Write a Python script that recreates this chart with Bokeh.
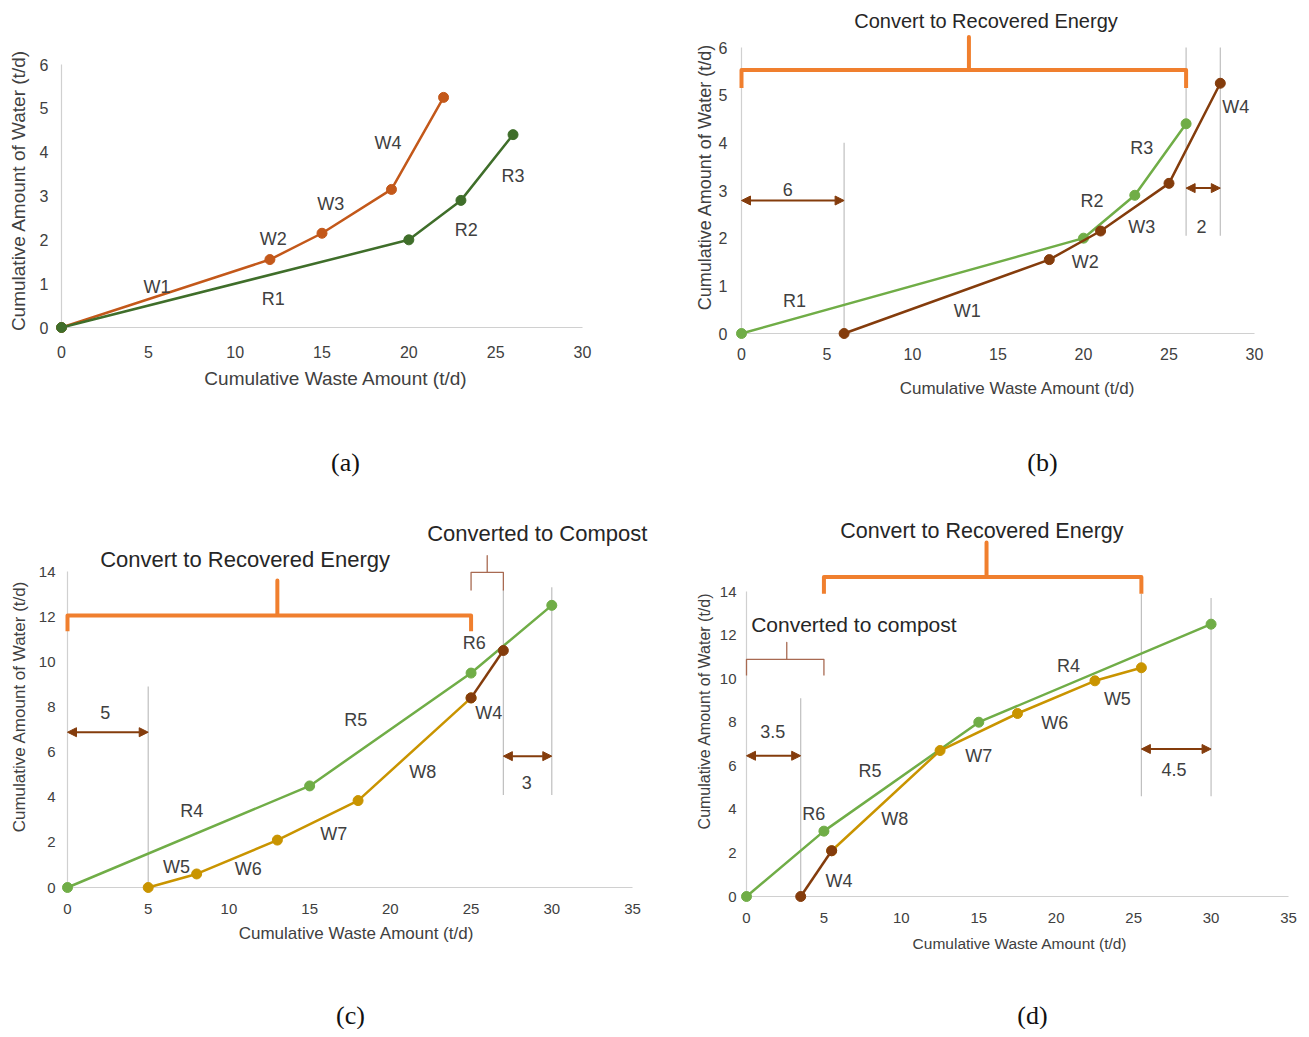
from bokeh.plotting import figure
from bokeh.models import FixedTicker, Arrow, NormalHead
from bokeh.layouts import row, column
from bokeh.embed import file_html
from bokeh.resources import INLINE
from bokeh.core.properties import value

# ---------------- data ----------------
# panel (a)
a_w_x = [0, 12, 15, 19, 22]
a_w_y = [0, 1.55, 2.15, 3.15, 5.25]
a_r_x = [0, 20, 23, 26]
a_r_y = [0, 2.0, 2.9, 4.4]
a_lab = ["W1", "W2", "W3", "W4", "R1", "R2", "R3"]
a_lab_x = [5.5, 12.2, 15.5, 18.8, 12.2, 23.3, 26.0]
a_lab_y = [0.93, 2.01, 2.81, 4.22, 0.66, 2.23, 3.46]

# panel (b)
b_r_x = [0, 20, 23, 26]
b_r_y = [0, 2.0, 2.9, 4.4]
b_w_x = [6, 18, 21, 25, 28]
b_w_y = [0, 1.55, 2.15, 3.15, 5.25]
b_lab = ["R1", "W1", "W2", "R2", "W3", "R3", "W4", "6", "2"]
b_lab_x = [3.1, 13.2, 20.1, 20.5, 23.4, 23.4, 28.9, 2.7, 26.9]
b_lab_y = [0.68, 0.47, 1.5, 2.77, 2.23, 3.89, 4.76, 3.03, 2.25]

# panel (c)
c_r_x = [0, 15, 25, 30]
c_r_y = [0, 4.5, 9.5, 12.5]
c_w_x = [5, 8, 13, 18, 25]
c_w_y = [0, 0.6, 2.1, 3.85, 8.4]
c_w4_x = [25, 27]
c_w4_y = [8.4, 10.5]
c_lab = ["R4", "R5", "R6", "W4", "W8", "W7", "W6", "W5", "5", "3"]
c_lab_x = [7.7, 17.85, 25.2, 26.1, 22.0, 16.5, 11.2, 6.75, 2.34, 28.45]
c_lab_y = [3.39, 7.44, 10.83, 7.71, 5.1, 2.36, 0.84, 0.93, 7.74, 4.67]

# panel (d)
d_r_x = [0, 5, 15, 30]
d_r_y = [0, 3, 8, 12.5]
d_w_x = [5.5, 12.5, 17.5, 22.5, 25.5]
d_w_y = [2.1, 6.7, 8.4, 9.9, 10.5]
d_w4_x = [3.5, 5.5]
d_w4_y = [0, 2.1]
d_lab = ["R4", "W5", "W6", "W7", "R5", "W8", "R6", "W4", "3.5", "4.5"]
d_lab_x = [20.8, 23.95, 19.9, 15.0, 7.97, 9.57, 4.35, 5.98, 1.7, 27.6]
d_lab_y = [10.6, 9.08, 7.97, 6.46, 5.74, 3.58, 3.78, 0.71, 7.58, 5.85]

ticks_x_a = [0, 5, 10, 15, 20, 25, 30]
ticks_y_a = [0, 1, 2, 3, 4, 5, 6]
ticks_x_c = [0, 5, 10, 15, 20, 25, 30, 35]
ticks_y_c = [0, 2, 4, 6, 8, 10, 12, 14]

captions = ["(a)", "(b)", "(c)", "(d)"]

# ---------------- styles ----------------
FONT = "Liberation Sans"
SERIF = "Liberation Serif"
ORANGE = "#f07f2e"
BROWN = "#843c0c"
GREEN_L = "#70ad47"
GREEN_D = "#3f6e2a"
ORANGE_D = "#c3581a"
GOLD = "#c99400"
GRAY = "#bfbfbf"
TXT = "#404040"
BRACE = "#a86a52"

LX, RX, W = 0, 654, 654          # column origins / width (page pixels)
TOP_H, CAP1_H, BOT_H, CAP2_H = 445, 68, 452, 64


def make_panel(fig_box, calib, frame, xt, yt, fs):
    fx, fy, fw, fh = fig_box
    px0, pxt, xv, py0, pyt, yv = calib
    fl, fr, ft, fb = frame
    sx = (pxt - px0) / xv
    sy = (py0 - pyt) / yv
    x0 = (fl - px0) / sx
    x1 = (fr - px0) / sx
    y1 = (py0 - ft) / sy
    y0 = (py0 - fb) / sy
    p = figure(frame_width=fr - fl, frame_height=fb - ft,
               x_range=(x0, x1), y_range=(y0, y1),
               min_border_left=fl - fx, min_border_right=fx + fw - fr,
               min_border_top=ft - fy, min_border_bottom=fy + fh - fb,
               output_backend="svg", toolbar_location=None,
               background_fill_color="white", border_fill_color="white")
    p.frame_align = False
    p.outline_line_color = None
    p.grid.visible = False
    for ax, ticks in ((p.xaxis[0], xt), (p.yaxis[0], yt)):
        ax.ticker = FixedTicker(ticks=ticks)
        ax.axis_line_color = None
        ax.major_tick_line_color = None
        ax.minor_tick_line_color = None
        ax.major_tick_out = 0
        ax.major_tick_in = 0
        ax.minor_tick_out = 0
        ax.minor_tick_in = 0
        ax.major_label_text_font = FONT
        ax.major_label_text_font_size = fs["tick"]
        ax.major_label_text_color = TXT
        ax.axis_label_text_font = FONT
        ax.axis_label_text_font_style = "normal"
        ax.axis_label_text_color = TXT
    p.xaxis[0].axis_label_text_font_size = fs["xt"]
    p.yaxis[0].axis_label_text_font_size = fs["yt"]
    p.xaxis[0].major_label_standoff = fs["xs"]
    p.yaxis[0].major_label_standoff = fs["ys"]
    p.xaxis[0].axis_label_standoff = fs["xls"]
    p.yaxis[0].axis_label_standoff = fs["yls"]
    # axis base lines
    p.segment(x0=[0, 0], y0=[0, 0], x1=[xt[-1], 0], y1=[0, yt[-1]],
              line_color="#d0d0d0", line_width=1.2)
    return p


def caption_strip(text, box, center):
    fx, fy, fw, fh = box
    p = figure(width=fw, height=fh, x_range=(0, fw), y_range=(fh, 0),
               min_border=0, output_backend="svg", toolbar_location=None,
               x_axis_type=None, y_axis_type=None,
               background_fill_color="white", border_fill_color="white")
    p.outline_line_color = None
    p.text(x=[center[0] - fx], y=[center[1] - fy], text=[text],
           text_font=value(SERIF), text_font_size="26px", text_color="#111111",
           text_align="center", text_baseline="middle")
    return p


def labels(p, xs, ys, txt, size="18px"):
    p.text(x=xs, y=ys, text=txt, text_font=value(FONT), text_font_size=size,
           text_align="center", text_baseline="middle", text_color=TXT)


def series(p, x, y, color):
    p.line(x, y, line_color=color, line_width=2.5)
    p.scatter(x, y, size=10, fill_color=color, line_color=color)


def bracket(p, x0, x1, y, yend, xm, ytip, color, width):
    p.line([x0, x0, xm, xm, xm, x1, x1], [yend, y, y, ytip, y, y, yend],
           line_color=color, line_width=width, line_join="round")


def gap_arrow(p, xa, xb, y):
    p.add_layout(Arrow(start=NormalHead(size=9, fill_color=BROWN, line_color=BROWN),
                       end=NormalHead(size=9, fill_color=BROWN, line_color=BROWN),
                       x_start=xa, y_start=y, x_end=xb, y_end=y,
                       line_color=BROWN, line_width=2))


X_TITLE = "Cumulative Waste Amount (t/d)"
Y_TITLE = "Cumulative Amount of Water (t/d)"

# ---------------- panel (a) ----------------
pa = make_panel((LX, 0, W, TOP_H), (61, 582, 30, 327, 64, 6), (51, 620, 40, 340),
                ticks_x_a, ticks_y_a,
                dict(tick="16px", xt="19px", yt="19px", xs=5, ys=3, xls=7, yls=8))
pa.xaxis.axis_label = X_TITLE
pa.yaxis.axis_label = Y_TITLE
series(pa, a_w_x, a_w_y, ORANGE_D)
series(pa, a_r_x, a_r_y, GREEN_D)
labels(pa, a_lab_x, a_lab_y, a_lab)

# ---------------- panel (b) ----------------
pb = make_panel((RX, 0, W, TOP_H), (741, 1254, 30, 333, 47, 6), (732, 1302, 9, 344),
                ticks_x_a, ticks_y_a,
                dict(tick="16px", xt="17px", yt="18px", xs=3, ys=5, xls=16, yls=1))
pb.xaxis.axis_label = X_TITLE
pb.yaxis.axis_label = Y_TITLE
pb.segment(x0=[b_w_x[0], b_r_x[-1], b_w_x[-1]], y0=[0, 2.05, 2.05],
           x1=[b_w_x[0], b_r_x[-1], b_w_x[-1]], y1=[4.0, 6.0, 6.0],
           line_color=GRAY, line_width=1.2)
bracket(pb, 0, b_r_x[-1], 5.53, 5.15, 13.3, 6.22, ORANGE, 4)
series(pb, b_r_x, b_r_y, GREEN_L)
series(pb, b_w_x, b_w_y, BROWN)
gap_arrow(pb, 0, b_w_x[0], 2.79)
gap_arrow(pb, b_r_x[-1], b_w_x[-1], 3.05)
labels(pb, b_lab_x, b_lab_y, b_lab)
pb.text(x=[14.3], y=[6.55], text=["Convert to Recovered Energy"], text_font=value(FONT),
        text_font_size="20px", text_align="center", text_baseline="middle", text_color="#262626")

# ---------------- panel (c) ----------------
BOT_Y = TOP_H + CAP1_H
pc = make_panel((LX, BOT_Y, W, BOT_H), (67, 632, 35, 887, 571, 14), (58, 654, 514, 898),
                ticks_x_c, ticks_y_c,
                dict(tick="15px", xt="17px", yt="17px", xs=5, ys=3, xls=7, yls=7))
pc.xaxis.axis_label = X_TITLE
pc.yaxis.axis_label = Y_TITLE
pc.segment(x0=[c_w_x[0], c_w4_x[-1], c_r_x[-1]], y0=[0, 4.1, 4.1],
           x1=[c_w_x[0], c_w4_x[-1], c_r_x[-1]], y1=[8.9, 13.2, 13.3],
           line_color=GRAY, line_width=1.2)
bracket(pc, 0, c_w4_x[0], 12.05, 11.35, 13.0, 13.6, ORANGE, 4)
bracket(pc, c_w4_x[0], c_w4_x[-1], 13.96, 13.16, 26.0, 14.7, BRACE, 1.3)
series(pc, c_r_x, c_r_y, GREEN_L)
series(pc, c_w_x, c_w_y, GOLD)
series(pc, c_w4_x, c_w4_y, BROWN)
gap_arrow(pc, 0, c_w_x[0], 6.88)
gap_arrow(pc, c_w4_x[-1], c_r_x[-1], 5.82)
labels(pc, c_lab_x, c_lab_y, c_lab)
pc.text(x=[11.0, 29.1], y=[14.53, 15.68],
        text=["Convert to Recovered Energy", "Converted to Compost"], text_font=value(FONT),
        text_font_size="22px", text_align="center", text_baseline="middle", text_color="#262626")

# ---------------- panel (d) ----------------
pd_ = make_panel((RX, BOT_Y, W, BOT_H), (746, 1288, 35, 896, 591, 14), (737, 1302, 514, 907),
                 ticks_x_c, ticks_y_c,
                 dict(tick="15px", xt="15.5px", yt="16px", xs=5, ys=1, xls=9, yls=4))
pd_.xaxis.axis_label = X_TITLE
pd_.yaxis.axis_label = Y_TITLE
pd_.segment(x0=[d_w4_x[0], d_w_x[-1], d_r_x[-1]], y0=[0, 4.6, 4.6],
            x1=[d_w4_x[0], d_w_x[-1], d_r_x[-1]], y1=[9.1, 13.9, 13.7],
            line_color=GRAY, line_width=1.2)
bracket(pd_, d_r_x[1], d_w_x[-1], 14.66, 13.9, 15.5, 16.25, ORANGE, 4)
bracket(pd_, 0, d_r_x[1], 10.88, 10.14, 2.6, 11.66, BRACE, 1.3)
series(pd_, d_r_x, d_r_y, GREEN_L)
series(pd_, d_w_x, d_w_y, GOLD)
series(pd_, d_w4_x, d_w4_y, BROWN)
gap_arrow(pd_, 0, d_w4_x[0], 6.46)
gap_arrow(pd_, d_w_x[-1], d_r_x[-1], 6.77)
labels(pd_, d_lab_x, d_lab_y, d_lab)
pd_.text(x=[15.2], y=[16.8], text=["Convert to Recovered Energy"], text_font=value(FONT),
         text_font_size="21.5px", text_align="center", text_baseline="middle", text_color="#262626")
pd_.text(x=[0.3], y=[12.5], text=["Converted to compost"], text_font=value(FONT),
         text_font_size="21px", text_align="left", text_baseline="middle", text_color="#262626")

# ---------------- captions ----------------
CAP2_Y = BOT_Y + BOT_H
ca = caption_strip(captions[0], (LX, TOP_H, W, CAP1_H), (345, 462))
cb = caption_strip(captions[1], (RX, TOP_H, W, CAP1_H), (1042, 462))
cc = caption_strip(captions[2], (LX, CAP2_Y, W, CAP2_H), (350, 1015))
cd = caption_strip(captions[3], (RX, CAP2_Y, W, CAP2_H), (1032, 1015))

layout = column(row(pa, pb), row(ca, cb), row(pc, pd_), row(cc, cd))
open("out.html", "w").write(file_html(layout, INLINE))
